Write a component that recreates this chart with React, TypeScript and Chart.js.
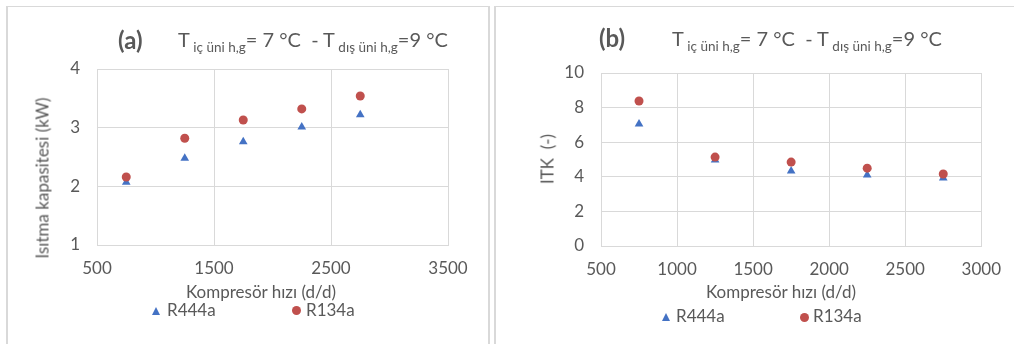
import React, { useEffect, useRef } from "react";
import { Chart, registerables } from "chart.js";

Chart.register(...registerables);

// ---------- data ----------
const speeds = [750, 1250, 1750, 2250, 2750];
const capacityR444a = [2.07, 2.48, 2.76, 3.01, 3.22];
const capacityR134a = [2.16, 2.82, 3.13, 3.32, 3.54];
const itkR444a = [7.05, 4.97, 4.34, 4.1, 3.93];
const itkR134a = [8.38, 5.14, 4.85, 4.5, 4.16];
const seriesNames = ["R444a", "R134a"];
const xAxisTitle = "Kompresör hızı (d/d)";
const yTitleA = "Isıtma kapasitesi (kW)";
const yTitleB = "ITK  (-)";
const panelLabels = ["(a)", "(b)"];

const FONT = "Lato, 'Open Sans', 'DejaVu Sans', sans-serif";
const TEXT = "#595959";
const GRID = "#d9d9d9";
const BLUE = "#4472C4";
const RED = "#C0504D";

type ChartProps = {
  left: number;
  width: number;
  height: number;
  plot: { l: number; t: number; r: number; b: number };
  x: { min: number; max: number; step: number };
  y: { min: number; max: number; step: number };
  s1: number[];
  s2: number[];
};

function ScatterPanel(p: ChartProps) {
  const ref = useRef<HTMLCanvasElement | null>(null);
  useEffect(() => {
    if (!ref.current) return;
    const xAxisH = 40;
    const chart = new Chart(ref.current, {
      type: "scatter",
      data: {
        datasets: [
          {
            label: seriesNames[0],
            data: speeds.map((v, i) => ({ x: v, y: p.s1[i] })),
            pointStyle: "triangle",
            pointRadius: 5,
            backgroundColor: BLUE,
            borderColor: BLUE,
            borderWidth: 0,
            order: 1,
          },
          {
            label: seriesNames[1],
            data: speeds.map((v, i) => ({ x: v, y: p.s2[i] })),
            pointStyle: "circle",
            pointRadius: 4.5,
            backgroundColor: RED,
            borderColor: RED,
            borderWidth: 0,
            order: 0,
          },
        ],
      },
      options: {
        animation: false,
        responsive: false,
        devicePixelRatio: 1,
        layout: {
          padding: {
            left: 0,
            top: p.plot.t,
            right: p.width - p.plot.r,
            bottom: p.height - p.plot.b - xAxisH,
          },
        },
        plugins: {
          legend: { display: false },
          title: { display: false },
          tooltip: { enabled: false },
        },
        scales: {
          x: {
            type: "linear",
            min: p.x.min,
            max: p.x.max,
            afterFit: (s: any) => {
              s.height = xAxisH;
            },
            ticks: {
              stepSize: p.x.step,
              color: TEXT,
              font: { family: FONT, size: 17 },
              padding: 13,
              maxRotation: 0,
              callback: (v: any) => String(v),
            },
            grid: { color: GRID, lineWidth: 1, drawTicks: false },
            border: { color: GRID, width: 1 },
          },
          y: {
            type: "linear",
            min: p.y.min,
            max: p.y.max,
            afterFit: (s: any) => {
              s.width = p.plot.l;
            },
            ticks: {
              stepSize: p.y.step,
              color: TEXT,
              font: { family: FONT, size: 17 },
              padding: 17,
              callback: (v: any) => String(v),
            },
            grid: { color: GRID, lineWidth: 1, drawTicks: false },
            border: { color: GRID, width: 1 },
          },
        },
      },
    });
    return () => chart.destroy();
  }, []);
  return (
    <canvas
      ref={ref}
      width={p.width}
      height={p.height}
      style={{ position: "absolute", left: p.left, top: 0, width: p.width, height: p.height }}
    />
  );
}

function Txt(props: {
  x: number;
  base: number;
  size: number;
  center?: boolean;
  bold?: boolean;
  children: React.ReactNode;
}) {
  return (
    <div
      style={{
        position: "absolute",
        left: props.x,
        top: props.base - 0.887 * props.size,
        fontSize: props.size,
        lineHeight: 1,
        fontWeight: props.bold ? 700 : 400,
        whiteSpace: "pre",
        color: TEXT,
        transform: props.center ? "translateX(-50%)" : undefined,
      }}
    >
      {props.children}
    </div>
  );
}

function RotText(props: { cx: number; cy: number; size: number; children: React.ReactNode }) {
  return (
    <div
      style={{
        position: "absolute",
        left: props.cx,
        top: props.cy,
        fontSize: props.size,
        lineHeight: 1,
        whiteSpace: "pre",
        color: TEXT,
        transform: "translate(-50%, -50%) rotate(-90deg)",
      }}
    >
      {props.children}
    </div>
  );
}

function Sub(props: { children: React.ReactNode }) {
  return (
    <span style={{ fontSize: 13.5, position: "relative", top: 5 }}>{props.children}</span>
  );
}

function Title(props: { x: number; base: number }) {
  return (
    <Txt x={props.x} base={props.base} size={20}>
      T<Sub> iç üni h,g</Sub>= 7 °C  - T<Sub> dış üni h,g</Sub>=9 °C
    </Txt>
  );
}

function Legend(props: { tx: number; ty: number; cx: number; cy: number; base: number; t1: number; t2: number }) {
  return (
    <>
      <div
        style={{
          position: "absolute",
          left: props.tx,
          top: props.ty,
          width: 0,
          height: 0,
          borderLeft: "4.5px solid transparent",
          borderRight: "4.5px solid transparent",
          borderBottom: `8px solid ${BLUE}`,
        }}
      />
      <Txt x={props.t1} base={props.base} size={17}>
        {seriesNames[0]}
      </Txt>
      <div
        style={{
          position: "absolute",
          left: props.cx,
          top: props.cy,
          width: 9,
          height: 9,
          borderRadius: "50%",
          background: RED,
        }}
      />
      <Txt x={props.t2} base={props.base} size={17}>
        {seriesNames[1]}
      </Txt>
    </>
  );
}

export default function App() {
  return (
    <div
      style={{
        position: "fixed",
        left: 0,
        top: 0,
        width: 1014,
        height: 344,
        overflow: "hidden",
        background: "#fff",
        fontFamily: FONT,
      }}
    >
      {/* panel frames */}
      <div
        style={{
          position: "absolute",
          left: 6,
          top: 6,
          width: 484,
          height: 400,
          boxSizing: "border-box",
          borderLeft: `2px solid ${GRID}`,
          borderRight: `2px solid ${GRID}`,
          borderTop: `1px solid ${GRID}`,
        }}
      />
      <div
        style={{
          position: "absolute",
          left: 494,
          top: 6,
          width: 600,
          height: 400,
          boxSizing: "border-box",
          borderLeft: `2px solid ${GRID}`,
          borderTop: `1px solid ${GRID}`,
        }}
      />

      <ScatterPanel
        left={0}
        width={495}
        height={344}
        plot={{ l: 97, t: 69, r: 448, b: 245 }}
        x={{ min: 500, max: 3500, step: 1000 }}
        y={{ min: 1, max: 4, step: 1 }}
        s1={capacityR444a}
        s2={capacityR134a}
      />
      <ScatterPanel
        left={497}
        width={517}
        height={344}
        plot={{ l: 104, t: 73, r: 492, b: 246 }}
        x={{ min: 500, max: 3000, step: 500 }}
        y={{ min: 0, max: 10, step: 2 }}
        s1={itkR444a}
        s2={itkR134a}
      />

      {/* panel (a) texts */}
      <Txt x={118} base={49} size={24} bold>
        {panelLabels[0]}
      </Txt>
      <Title x={178} base={47} />
      <RotText cx={42} cy={178} size={17}>
        {yTitleA}
      </RotText>
      <Txt x={261} base={298} size={17} center>
        {xAxisTitle}
      </Txt>
      <Legend tx={152} ty={307} cx={292} cy={306} base={316} t1={167} t2={306} />

      {/* panel (b) texts */}
      <Txt x={599} base={47} size={24} bold>
        {panelLabels[1]}
      </Txt>
      <Title x={672} base={46} />
      <RotText cx={547} cy={159} size={17}>
        {yTitleB}
      </RotText>
      <Txt x={781} base={298} size={17} center>
        {xAxisTitle}
      </Txt>
      <Legend tx={662} ty={313} cx={800} cy={313} base={322} t1={676} t2={813} />
    </div>
  );
}
